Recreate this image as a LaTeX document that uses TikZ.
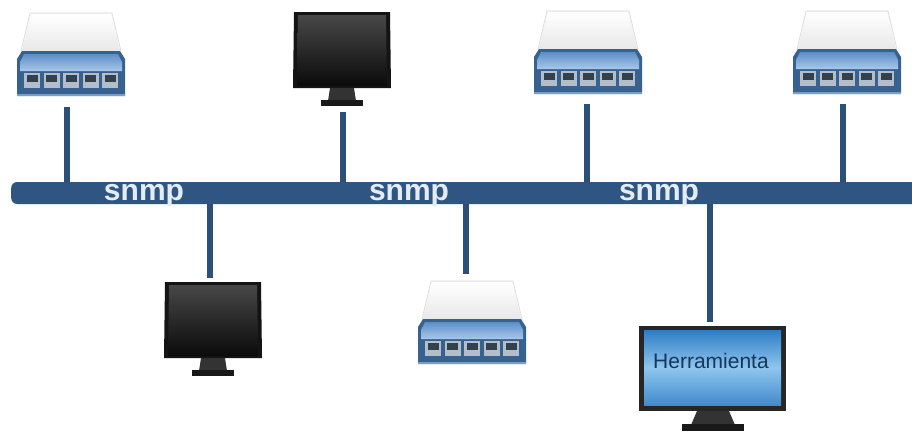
\documentclass[tikz,border=0pt]{standalone}
\usepackage{fontspec}
\setmainfont{Liberation Sans}
\definecolor{busblue}{HTML}{2F5583}
\definecolor{linkblue}{HTML}{2B4F78}
\definecolor{swdark}{HTML}{2A5C92}
\definecolor{swlight}{HTML}{A9C6E8}
\definecolor{swmid}{HTML}{5C8FC8}
\definecolor{scrA}{HTML}{2F7CC4}
\definecolor{scrB}{HTML}{8FC6EE}
\definecolor{portgray}{HTML}{B4BECA}
\definecolor{portdark}{HTML}{33404E}
\definecolor{snmptext}{HTML}{E4EDF7}
\definecolor{tooltext}{HTML}{16365C}
\tikzset{
  x=1pt,y=-1pt,
  busline/.style={fill=busblue,draw=none,rounded corners=6pt,inner sep=0pt},
  link/.style={draw=linkblue,line width=6pt},
  lbl/.style={text=snmptext,font=\bfseries\fontsize{30}{30}\selectfont,inner sep=0pt,anchor=base},
  switchdev/.pic={
    \path[fill=gray!8,draw=gray!30,line width=.6pt] (-41,0) -- (41,0) -- (50,38) -- (-50,38) -- cycle;
    \shade[top color=white,bottom color=gray!18] (-40,1) -- (40,1) -- (49,38) -- (-49,38) -- cycle;
    \fill[swdark!85!gray] (-49,38) -- (49,38) -- (54,46) -- (54,83) -- (-54,83) -- (-54,46) -- cycle;
    \shade[top color=swmid,bottom color=swlight] (-47,41) -- (47,41) -- (51,49) -- (51,58) -- (-51,58) -- (-51,49) -- cycle;
    \foreach \i in {-2,...,2}{
      \fill[portgray] ({\i*19.5-8},60) rectangle ({\i*19.5+8},75);
      \fill[portdark] ({\i*19.5-5.5},62) rectangle ({\i*19.5+5.5},69);
    }
    \fill[swlight,opacity=.6] (-54,81) rectangle (54,83);
  },
  monitordev/.pic={
    \fill[black!92] (-48,0) -- (48,0) -- (49,76) -- (-49,76) -- cycle;
    \shade[top color=black!72,bottom color=black!96] (-44,3) -- (44,3) -- (45,74) -- (-45,74) -- cycle;
    \fill[black!80] (-12,76) -- (12,76) -- (14,89) -- (-14,89) -- cycle;
    \fill[black!90] (-21,88) rectangle (21,94);
  },
  widemonitor/.pic={
    \fill[black!85] (-73,0) rectangle (74,85);
    \shade[top color=scrA,bottom color=scrA!80!scrB,middle color=scrB] (-68,4) rectangle (69,79);
    \fill[black!80] (-15,85) -- (17,85) -- (23,99) -- (-21,99) -- cycle;
    \fill[black!90] (-30,98) rectangle (32,105);
  },
}
\begin{document}
\begin{tikzpicture}
\useasboundingbox (0,0) rectangle (912,432);
\fill[white] (0,0) rectangle (912,432);
\coordinate (a1) at (67,107);
\coordinate (a2) at (343,112);
\coordinate (a3) at (587,104);
\coordinate (a4) at (843,104);
\coordinate (b1) at (210,278);
\coordinate (b2) at (466,274);
\coordinate (b3) at (710,322);
\node[busline,minimum width=915pt,minimum height=22pt,anchor=west] (bus) at (11,193) {};
\foreach \c in {a1,a2,a3,a4}{\draw[link] (\c) -- (\c |- bus.north);}
\foreach \c in {b1,b2,b3}{\draw[link] (\c) -- (\c |- bus.south);}
\node[lbl] (s1) at (144,200) {snmp};
\node[lbl] (s2) at (409,200) {snmp};
\node[lbl] (s3) at (659,200) {snmp};
\pic at (71,13) {switchdev};
\pic at (342,12) {monitordev};
\pic at (588,11) {switchdev};
\pic at (847,11) {switchdev};
\pic at (213,282) {monitordev};
\pic at (472,281) {switchdev};
\pic at (712,326) {widemonitor};
\node[text=tooltext,font=\fontsize{21}{21}\selectfont,inner sep=0pt] (tool) at (711,361) {Herramienta};
\end{tikzpicture}
\end{document}
